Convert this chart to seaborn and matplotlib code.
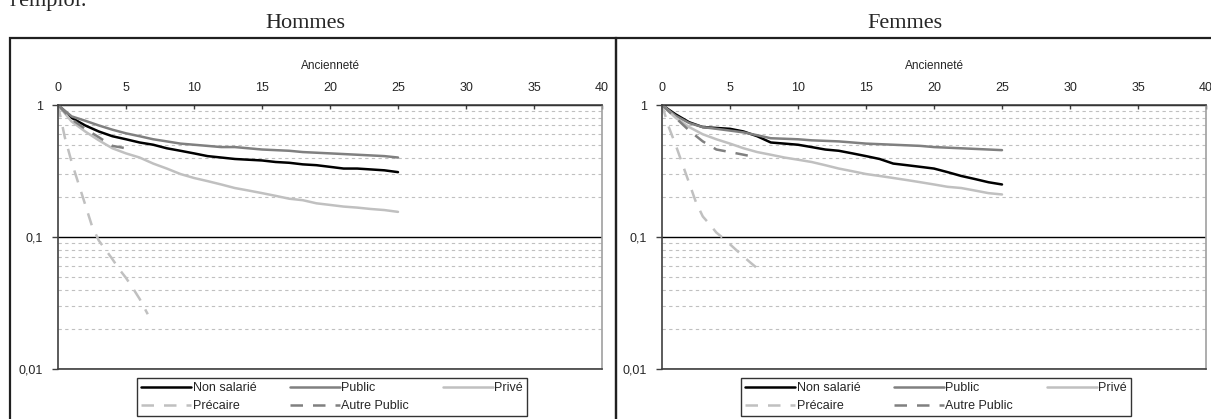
import numpy as np
import pandas as pd
import matplotlib.pyplot as plt
import seaborn as sns
from matplotlib.lines import Line2D
from matplotlib.patches import Rectangle
from matplotlib.ticker import LogLocator, FixedLocator

sns.set_style("white")
plt.rcParams['font.family'] = ['Liberation Sans', 'DejaVu Sans']

# --- data (survival by seniority, log scale) ---
annees = list(range(0, 26))

# Hommes
h_non_salarie = [1, 0.80, 0.70, 0.63, 0.58, 0.55, 0.52, 0.50, 0.47, 0.45, 0.43, 0.41, 0.40,
                 0.39, 0.385, 0.38, 0.37, 0.365, 0.355, 0.35, 0.34, 0.33, 0.33, 0.325, 0.32, 0.31]
h_public = [1, 0.82, 0.76, 0.70, 0.65, 0.61, 0.58, 0.55, 0.53, 0.51, 0.50, 0.49, 0.48,
            0.48, 0.47, 0.46, 0.455, 0.45, 0.44, 0.435, 0.43, 0.425, 0.42, 0.415, 0.41, 0.40]
h_prive = [1, 0.75, 0.63, 0.54, 0.47, 0.43, 0.40, 0.36, 0.33, 0.30, 0.28, 0.265, 0.25,
           0.235, 0.225, 0.215, 0.205, 0.195, 0.19, 0.18, 0.175, 0.17, 0.167, 0.163, 0.16, 0.155]
h_prec_x = [0, 0.5, 1, 1.5, 2, 2.5, 3, 3.5, 4, 4.5, 5, 5.5, 6, 6.6]
h_precaire = [1, 0.57, 0.37, 0.255, 0.176, 0.121, 0.094, 0.080, 0.068, 0.057, 0.049, 0.041, 0.034, 0.026]
h_autre_x = [0, 1, 2, 3, 4, 5]
h_autre_public = [1, 0.78, 0.66, 0.57, 0.49, 0.47]

# Femmes
f_non_salarie = [1, 0.85, 0.74, 0.68, 0.67, 0.66, 0.63, 0.58, 0.52, 0.51, 0.50, 0.48, 0.46,
                 0.45, 0.43, 0.41, 0.39, 0.36, 0.35, 0.34, 0.33, 0.31, 0.29, 0.275, 0.26, 0.25]
f_public = [1, 0.83, 0.73, 0.68, 0.66, 0.64, 0.62, 0.59, 0.56, 0.555, 0.55, 0.54, 0.535,
            0.53, 0.52, 0.51, 0.505, 0.50, 0.495, 0.49, 0.48, 0.475, 0.47, 0.465, 0.46, 0.455]
f_prive = [1, 0.80, 0.68, 0.60, 0.55, 0.51, 0.47, 0.44, 0.42, 0.40, 0.385, 0.37, 0.35,
           0.33, 0.315, 0.30, 0.29, 0.28, 0.27, 0.26, 0.25, 0.24, 0.235, 0.225, 0.215, 0.21]
f_prec_x = [0, 0.5, 1, 1.5, 2, 2.5, 3, 3.5, 4, 4.5, 5, 5.5, 6, 6.5, 7]
f_precaire = [1, 0.68, 0.50, 0.357, 0.256, 0.183, 0.143, 0.125, 0.108, 0.098, 0.088, 0.079, 0.071, 0.064, 0.058]
f_autre_x = [0, 1, 2, 3, 4, 5, 6, 7]
f_autre_public = [1, 0.80, 0.64, 0.53, 0.46, 0.44, 0.42, 0.40]

series = ["Non salarié", "Public", "Privé", "Précaire", "Autre Public"]
couleurs = {"Non salarié": "#000000", "Public": "#808080", "Privé": "#c0c0c0",
            "Précaire": "#c0c0c0", "Autre Public": "#808080"}
tirets = {"Non salarié": "", "Public": "", "Privé": "",
          "Précaire": (5, 4), "Autre Public": (5, 4)}


def build(ns, pub, prv, px, prc, ax_, aut):
    parts = [
        pd.DataFrame({"x": annees, "y": ns, "serie": "Non salarié"}),
        pd.DataFrame({"x": annees, "y": pub, "serie": "Public"}),
        pd.DataFrame({"x": annees, "y": prv, "serie": "Privé"}),
        pd.DataFrame({"x": px, "y": prc, "serie": "Précaire"}),
        pd.DataFrame({"x": ax_, "y": aut, "serie": "Autre Public"}),
    ]
    return pd.concat(parts, ignore_index=True)


df_h = build(h_non_salarie, h_public, h_prive, h_prec_x, h_precaire, h_autre_x, h_autre_public)
df_f = build(f_non_salarie, f_public, f_prive, f_prec_x, f_precaire, f_autre_x, f_autre_public)

W, H = 1211, 419
fig = plt.figure(figsize=(W / 100, H / 100), dpi=100)


def fx(px):
    return px / W


def fy(py):
    return 1 - py / H


# panel frames
for x0, x1 in [(10, 616), (616, 1216)]:
    fig.patches.append(Rectangle((fx(x0), fy(430)), fx(x1 - x0), fy(38) - fy(430),
                                 transform=fig.transFigure, fill=False,
                                 edgecolor="#202020", lw=1.6, clip_on=False))

fig.text(fx(10), fy(6), "l'emploi.", family="Liberation Serif", fontsize=16,
         va="baseline", ha="left")

panels = [("Hommes", df_h, 58, 305), ("Femmes", df_f, 662, 905)]
for titre, df, left, tx in panels:
    ax = fig.add_axes([fx(left), fy(369), fx(544), fy(105) - fy(369)])
    sns.lineplot(data=df, x="x", y="y", hue="serie", style="serie",
                 palette=couleurs, dashes=tirets, hue_order=series,
                 linewidth=1.8, legend=False, ax=ax, estimator=None, sort=False)
    ax.set_yscale("log")
    ax.set_ylim(0.01, 1)
    ax.set_xlim(0, 40)
    ax.set_yticks([0.01, 0.1, 1])
    ax.set_yticklabels(["0,01", "0,1", "1"])
    ax.yaxis.set_minor_locator(LogLocator(base=10, subs=np.arange(2, 10)))
    ax.yaxis.set_minor_formatter(plt.NullFormatter())
    ax.grid(axis="y", which="minor", color="#c0c0c0", lw=0.8, ls=(0, (3, 3)))
    ax.grid(axis="y", which="major", color="black", lw=1.0)
    ax.grid(axis="x", visible=False)
    ax.xaxis.set_major_locator(FixedLocator(np.arange(0, 41, 5)))
    ax.xaxis.tick_top()
    ax.xaxis.set_label_position("top")
    ax.tick_params(axis="x", which="major", direction="in", length=3, width=1,
                   color="#404040", pad=8, labelsize=9, top=True, bottom=False)
    ax.tick_params(axis="y", which="major", direction="out", length=4, width=1,
                   color="#404040", pad=7, labelsize=9, left=True)
    ax.tick_params(axis="y", which="minor", length=0)
    ax.set_xlabel("Ancienneté", fontsize=8.5, labelpad=9)
    ax.set_ylabel("")
    ax.spines["top"].set_color("#404040")
    ax.spines["left"].set_color("#404040")
    ax.spines["bottom"].set_color("#404040")
    ax.spines["right"].set_color("#a0a0a0")
    for s in ax.spines.values():
        s.set_linewidth(1.2)
        s.set_visible(True)

    fig.text(fx(tx), fy(24), titre, family="Liberation Serif", fontsize=16,
             ha="center", va="center")

    order = ["Non salarié", "Précaire", "Public", "Autre Public", "Privé"]
    handles = []
    for s in order:
        h = Line2D([0], [0], color=couleurs[s], lw=1.8)
        if tirets[s]:
            h.set_dashes(tirets[s])
        handles.append(h)
    leg = fig.legend(handles, order, ncol=3, loc="upper left", mode="expand",
                     bbox_to_anchor=(fx(left + 79), fy(378) - 0.12, fx(390), 0.12),
                     fontsize=9, frameon=True, fancybox=False, edgecolor="black",
                     handlelength=4.0, handletextpad=0.1, columnspacing=1.0,
                     labelspacing=0.45, borderpad=0.35, borderaxespad=0)
    leg.get_frame().set_linewidth(1.0)

fig.savefig("out.png", dpi=100)
